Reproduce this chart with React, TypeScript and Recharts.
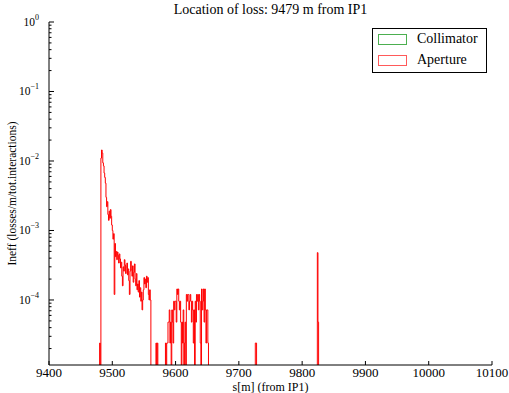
import { ComposedChart, Line, XAxis, YAxis } from "recharts";

// axis ticks
const xTicks = [9400, 9500, 9600, 9700, 9800, 9900, 10000, 10100];
const Y_MIN = 1.16e-5;
const Y_MAX = 1;
const yTicks: number[] = [];
for (let e = -5; e <= 0; e++) {
  for (let m = 1; m <= 9; m++) {
    const v = m * Math.pow(10, e);
    if (v >= Y_MIN && v <= Y_MAX) yTicks.push(v);
  }
}

// aperture losses, 1 m bins (0 = no loss in that bin)
const BIN = 1;
const peakStart = 9480;
const peakValues = [
  2.4e-5, 0, 1.1e-2, 1.44e-2, 1.3e-2, 9.4e-3, 8.5e-3, 6.7e-3, 5.8e-3, 4.8e-3,
  3.0e-3, 2.2e-3, 2.6e-3, 1.7e-3, 1.4e-3, 1.9e-3, 1.5e-3, 2.0e-3, 1.6e-3, 1.2e-3,
  1.0e-3, 7.5e-4, 9.0e-4, 1.2e-4, 6.5e-4, 4.2e-4, 5.0e-4, 3.8e-4, 4.9e-4, 4.4e-4,
  3.4e-4, 4.6e-4, 3.9e-4, 2.9e-4, 3.5e-4, 2.2e-4, 1.6e-4, 3.0e-4, 2.6e-4, 3.8e-4,
  3.2e-4, 2.4e-4, 3.0e-4, 3.4e-4, 2.3e-4, 2.8e-4, 1.9e-4, 1.2e-4, 2.6e-4, 3.6e-4,
  2.7e-4, 2.2e-4, 3.1e-4, 1.8e-4, 2.5e-4, 3.3e-4, 2.0e-4, 1.6e-4, 2.4e-4, 1.4e-4,
  1.7e-4, 1.3e-4, 1.9e-4, 1.1e-4, 1.5e-4, 9.6e-5, 1.3e-4, 7.2e-5, 1.0e-4, 1.4e-4,
  2.1e-4, 1.7e-4, 2.0e-4, 1.5e-4, 2.2e-4, 1.8e-4, 2.1e-4, 1.2e-4, 1.0e-4, 1.4e-4,
  1.0e-4,
];
const tailStart = 9569;
const tailValues = [
  2.4e-5, 0, 2.4e-5, 0, 0, 0, 0, 0, 0, 0,
  0, 0, 0, 0, 0, 2.4e-5, 0, 2.4e-5, 2.4e-5, 4.8e-5,
  4.8e-5, 7.2e-5, 2.4e-5, 4.8e-5, 0, 7.2e-5, 4.8e-5, 2.4e-5, 9.6e-5, 7.2e-5,
  9.6e-5, 9.6e-5, 4.8e-5, 1.44e-4, 1.2e-4, 1.44e-4, 9.6e-5, 7.2e-5, 9.6e-5, 4.8e-5,
  0, 4.8e-5, 2.4e-5, 7.2e-5, 0, 2.4e-5, 4.8e-5, 0, 1.2e-4, 9.6e-5,
  1.2e-4, 1.2e-4, 7.2e-5, 9.6e-5, 1.2e-4, 9.6e-5, 4.8e-5, 9.6e-5, 7.2e-5, 2.4e-5,
  7.2e-5, 0, 9.6e-5, 4.8e-5, 1.2e-4, 9.6e-5, 1.2e-4, 7.2e-5, 1.2e-4, 9.6e-5,
  2.4e-5, 0, 1.44e-4, 7.2e-5, 9.6e-5, 1.44e-4, 4.8e-5, 1.44e-4, 7.2e-5, 2.4e-5,
  7.2e-5, 7.2e-5, 2.4e-5,
];
const spike1Start = 9726;
const spike1Values = [2.4e-5, 2.4e-5];
const spike2Start = 9824;
const spike2Values = [4.8e-4, 4.8e-5];

// collimator: no losses recorded in this range
const collimatorValues: number[] = [];

const FLOOR = 1e-9; // stands in for zero on the log axis, clipped below the plot

function buildSteps(segments: { start: number; values: number[] }[]) {
  const pts = [{ s: 9400, v: FLOOR }];
  segments.forEach((seg) => {
    seg.values.forEach((v, i) => pts.push({ s: seg.start + i * BIN, v: v > 0 ? v : FLOOR }));
    pts.push({ s: seg.start + seg.values.length * BIN, v: FLOOR });
  });
  pts.push({ s: 10100, v: FLOOR });
  return pts;
}

const apertureData = buildSteps([
  { start: peakStart, values: peakValues },
  { start: tailStart, values: tailValues },
  { start: spike1Start, values: spike1Values },
  { start: spike2Start, values: spike2Values },
]);
const collimatorData = buildSteps(collimatorValues.length ? [{ start: 9400, values: collimatorValues }] : []);

const legendItems = [
  { name: "Collimator", color: "#4caf50" },
  { name: "Aperture", color: "#ff5a5a" },
];

const isMajor = (v: number) => Math.abs(Math.log10(v) - Math.round(Math.log10(v))) < 1e-6;

function BottomTick({ x, y, payload }: any) {
  return (
    <g>
      <line x1={x} x2={x} y1={y} y2={y - 4} stroke="#000" />
      <text x={x} y={y + 12} textAnchor="middle" fontSize={13} fill="#000">
        {payload.value}
      </text>
    </g>
  );
}

function TopTick({ x, y }: any) {
  return <line x1={x} x2={x} y1={y} y2={y + 4} stroke="#000" />;
}

function LeftTick({ x, y, payload }: any) {
  const v = payload.value;
  const major = isMajor(v);
  const exp = Math.round(Math.log10(v));
  return (
    <g>
      <line x1={x} x2={x + (major ? 5 : 2.5)} y1={y} y2={y} stroke="#000" />
      {major && (
        <text x={x - 10} y={y + 4} textAnchor="end" fontSize={11.5} fill="#000">
          10
          <tspan dy={-6} fontSize={8}>
            {exp === 0 ? "0" : `\u2212${-exp}`}
          </tspan>
        </text>
      )}
    </g>
  );
}

function RightTick({ x, y, payload }: any) {
  const major = isMajor(payload.value);
  return <line x1={x} x2={x - (major ? 5 : 2.5)} y1={y} y2={y} stroke="#000" />;
}

export default function App() {
  return (
    <div
      style={{
        position: "absolute",
        left: 0,
        top: 0,
        width: 509,
        height: 393,
        background: "#fff",
        fontFamily: '"Liberation Serif", serif',
      }}
    >
      <div style={{ position: "absolute", left: 49, width: 443, top: 2, textAlign: "center", fontSize: 14, lineHeight: "16px" }}>
        Location of loss: 9479 m from IP1
      </div>
      <ComposedChart width={509} height={393} margin={{ top: 22, right: 17, bottom: 0, left: 9 }}>
        <XAxis
          xAxisId="bottom"
          dataKey="s"
          type="number"
          domain={[9400, 10100]}
          ticks={xTicks}
          interval={0}
          allowDataOverflow
          height={28}
          tickSize={0}
          tickMargin={0}
          tickLine={false}
          axisLine={{ stroke: "#000" }}
          tick={(p: any) => <BottomTick {...p} />}
          label={{
            content: ({ viewBox }: any) => (
              <text x={viewBox.x + viewBox.width / 2} y={391} textAnchor="middle" fontSize={12} fill="#000">
                s[m] (from IP1)
              </text>
            ),
          }}
        />
        <XAxis
          xAxisId="top"
          orientation="top"
          dataKey="s"
          type="number"
          domain={[9400, 10100]}
          ticks={xTicks}
          interval={0}
          allowDataOverflow
          height={0}
          tickSize={0}
          tickMargin={0}
          tickLine={false}
          axisLine={{ stroke: "#000" }}
          tick={(p: any) => <TopTick {...p} />}
        />
        <YAxis
          yAxisId="left"
          scale="log"
          type="number"
          domain={[Y_MIN, Y_MAX]}
          ticks={yTicks}
          interval={0}
          allowDataOverflow
          width={40}
          tickSize={0}
          tickMargin={0}
          tickLine={false}
          axisLine={{ stroke: "#000" }}
          tick={(p: any) => <LeftTick {...p} />}
          label={{
            content: ({ viewBox }: any) => {
              const cx = 12;
              const cy = viewBox.y + viewBox.height / 2;
              return (
                <text x={cx} y={cy} transform={`rotate(-90 ${cx} ${cy})`} textAnchor="middle" dominantBaseline="central" fontSize={11.5} fill="#000">
                  Ineff (losses/m/tot.interactions)
                </text>
              );
            },
          }}
        />
        <YAxis
          yAxisId="right"
          orientation="right"
          scale="log"
          type="number"
          domain={[Y_MIN, Y_MAX]}
          ticks={yTicks}
          interval={0}
          allowDataOverflow
          width={0}
          tickSize={0}
          tickMargin={0}
          tickLine={false}
          axisLine={{ stroke: "#000" }}
          tick={(p: any) => <RightTick {...p} />}
        />
        <Line
          xAxisId="bottom"
          yAxisId="left"
          data={collimatorData}
          dataKey="v"
          type="stepAfter"
          stroke="#008000"
          strokeWidth={1}
          dot={false}
          activeDot={false}
          isAnimationActive={false}
        />
        <Line
          xAxisId="bottom"
          yAxisId="left"
          data={apertureData}
          dataKey="v"
          type="stepAfter"
          stroke="#ff0000"
          strokeWidth={1}
          dot={false}
          activeDot={false}
          isAnimationActive={false}
        />
      </ComposedChart>
      <div
        style={{
          position: "absolute",
          left: 372,
          top: 28,
          width: 115,
          height: 45,
          border: "1px solid #000",
          boxSizing: "border-box",
          background: "#fff",
          fontSize: 14,
        }}
      >
        {legendItems.map((item, i) => (
          <div key={item.name}>
            <span
              style={{
                position: "absolute",
                left: 5,
                top: 5 + i * 21,
                width: 29,
                height: 11,
                border: `1.5px solid ${item.color}`,
                boxSizing: "border-box",
              }}
            />
            <span style={{ position: "absolute", left: 44, top: 2 + i * 21, lineHeight: "16px" }}>{item.name}</span>
          </div>
        ))}
      </div>
    </div>
  );
}
